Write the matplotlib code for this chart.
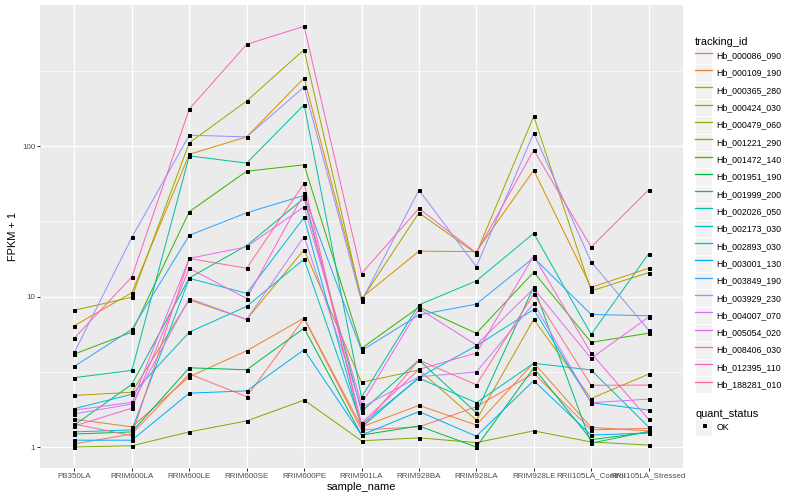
import matplotlib
matplotlib.use('Agg')
import matplotlib.pyplot as plt
from matplotlib.lines import Line2D
from matplotlib.patches import Rectangle
from matplotlib.legend_handler import HandlerLine2D
from matplotlib.ticker import FixedLocator, NullFormatter

plt.rcParams['font.family'] = ['Liberation Sans', 'DejaVu Sans']

samples = ['PB350LA', 'RRIM600LA', 'RRIM600LE', 'RRIM600SE', 'RRIM600PE',
           'RRIM901LA', 'RRIM928BA', 'RRIM928LA', 'RRIM928LE',
           'RRII105LA_Control', 'RRII105LA_Stressed']

tracking_ids = ['Hb_000086_090', 'Hb_000109_190', 'Hb_000365_280', 'Hb_000424_030',
                'Hb_000479_060', 'Hb_001221_290', 'Hb_001472_140', 'Hb_001951_190',
                'Hb_001999_200', 'Hb_002026_050', 'Hb_002173_030', 'Hb_002893_030',
                'Hb_003001_130', 'Hb_003849_190', 'Hb_003929_230', 'Hb_004007_070',
                'Hb_005054_020', 'Hb_008406_030', 'Hb_012395_110', 'Hb_188281_010']

# FPKM + 1, one list per gene (same order as samples)
hb_000086_090 = [1.05, 1.22, 3.06, 2.16, 7.15, 1.30, 1.36, 1.85, 3.09, 1.30, 1.33]
hb_000109_190 = [1.53, 1.36, 2.93, 4.36, 7.20, 1.36, 1.89, 1.40, 3.63, 1.35, 1.28]
hb_000365_280 = [6.4, 10.6, 88, 115, 283, 9.8, 20.0, 19.9, 69, 11.5, 15.4]
hb_000424_030 = [2.2, 2.31, 9.5, 7.05, 20.5, 2.69, 3.25, 1.51, 7.05, 2.1, 3.05]
hb_000479_060 = [8.1, 9.9, 105, 199, 437, 9.5, 36, 19.3, 158, 10.9, 14.4]
hb_001221_290 = [1.0, 1.02, 1.26, 1.49, 2.05, 1.10, 1.15, 1.07, 1.28, 1.08, 1.03]
hb_001472_140 = [4.15, 5.8, 36.6, 68, 75, 4.52, 8.5, 5.7, 14.5, 4.96, 5.7]
hb_001951_190 = [1.22, 1.26, 3.36, 3.26, 6.16, 1.20, 1.38, 1.00, 3.35, 1.12, 1.25]
hb_001999_200 = [1.40, 2.61, 13.3, 21.8, 45, 1.72, 3.78, 1.69, 11.6, 1.06, 1.27]
hb_002026_050 = [2.89, 3.23, 86, 77, 188, 2.14, 8.8, 12.7, 26.3, 5.6, 19.2]
hb_002173_030 = [1.80, 2.24, 5.8, 8.6, 17.7, 1.41, 2.86, 1.97, 3.6, 3.25, 1.36]
hb_002893_030 = [1.26, 1.30, 13.2, 10.5, 33.5, 1.35, 2.90, 4.7, 8.2, 1.97, 1.76]
hb_003001_130 = [1.11, 1.11, 2.28, 2.36, 4.43, 1.20, 1.72, 1.18, 2.76, 1.20, 1.24]
hb_003849_190 = [3.44, 6.05, 25.5, 36, 47, 4.37, 7.55, 8.9, 18.1, 7.6, 7.45]
hb_003929_230 = [4.26, 24.7, 118, 115, 247, 9.3, 51, 15.8, 122, 17.0, 6.0]
hb_004007_070 = [1.66, 1.93, 9.7, 7.05, 25, 1.83, 2.93, 3.15, 9.0, 1.97, 2.08]
hb_005054_020 = [1.76, 1.98, 17.9, 21.4, 39.5, 1.93, 8.3, 4.76, 11.3, 3.88, 7.3]
hb_008406_030 = [1.38, 1.81, 15.4, 9.7, 48.5, 1.44, 3.28, 4.21, 18.6, 4.2, 1.53]
hb_012395_110 = [5.3, 13.5, 176, 474, 624, 14.2, 38.5, 19.5, 94, 21.3, 51]
hb_188281_010 = [1.42, 1.19, 17.9, 15.4, 56.5, 1.33, 3.78, 2.59, 10.4, 2.57, 2.58]

series = [hb_000086_090, hb_000109_190, hb_000365_280, hb_000424_030, hb_000479_060,
          hb_001221_290, hb_001472_140, hb_001951_190, hb_001999_200, hb_002026_050,
          hb_002173_030, hb_002893_030, hb_003001_130, hb_003849_190, hb_003929_230,
          hb_004007_070, hb_005054_020, hb_008406_030, hb_012395_110, hb_188281_010]

# ggplot hue palette, 20 levels
colors = ['#F8766D', '#EA8331', '#D89000', '#C09B00', '#A3A500', '#7CAE00', '#39B600',
          '#00BB4E', '#00BF7D', '#00C1A3', '#00BFC4', '#00BAE0', '#00B0F6', '#35A2FF',
          '#9590FF', '#C77CFF', '#E76BF3', '#FA62DB', '#FF62BC', '#FF6C91']


class KeyHandler(HandlerLine2D):
    """legend key with grey95 box, like ggplot"""
    def create_artists(self, legend, orig_handle, xdescent, ydescent,
                       width, height, fontsize, trans):
        rect = Rectangle((-xdescent, -ydescent), width, height, transform=trans,
                         facecolor='#F2F2F2', edgecolor='white', lw=1)
        arts = super().create_artists(legend, orig_handle, xdescent, ydescent,
                                      width, height, fontsize, trans)
        return [rect] + arts


DPI = 72
fig = plt.figure(figsize=(800 / DPI, 500 / DPI), dpi=DPI)
ax = fig.add_axes([40 / 800, 1 - 468 / 500, 643 / 800, 463 / 500])
ax.set_facecolor('#EBEBEB')

x = list(range(1, len(samples) + 1))
for vals, c in zip(series, colors):
    ax.plot(x, vals, color=c, lw=1.0, zorder=2)
for vals in series:
    ax.plot(x, vals, ls='none', marker='s', ms=3.0, color='black', zorder=3)

ax.set_yscale('log')
ax.set_ylim(10 ** -0.1395, 10 ** 2.937)
ax.set_xlim(0.4, len(samples) + 0.6)
ax.yaxis.set_major_locator(FixedLocator([1, 10, 100]))
ax.set_yticklabels(['1', '10', '100'])
ax.yaxis.set_minor_locator(FixedLocator([10 ** 0.5, 10 ** 1.5, 10 ** 2.5]))
ax.yaxis.set_minor_formatter(NullFormatter())
ax.set_xticks(x)
ax.set_xticklabels(samples)

ax.grid(True, which='major', color='white', lw=1.2, zorder=0)
ax.grid(True, which='minor', axis='y', color='white', lw=0.6, zorder=0)
ax.set_axisbelow(True)
for s in ax.spines.values():
    s.set_visible(False)
ax.tick_params(axis='both', which='major', length=2.75, width=1, color='#333333',
               labelsize=8, labelcolor='#4D4D4D', pad=2)
ax.tick_params(axis='y', which='minor', length=0)
ax.set_xlabel('sample_name', fontsize=11, labelpad=2)
ax.set_ylabel('FPKM + 1', fontsize=11, labelpad=4)

leg_kw = dict(loc='upper left', bbox_transform=fig.transFigure, frameon=False,
              fontsize=8.8, title_fontsize=11, borderpad=0, borderaxespad=0,
              labelspacing=0, handlelength=1.96, handleheight=2.65,
              handletextpad=0.5, alignment='left')

handles = [Line2D([], [], color=c, lw=1.3) for c in colors]
leg1 = ax.legend(handles, tracking_ids, title='tracking_id',
                 bbox_to_anchor=(695 / 800, 1 - 37 / 500),
                 handler_map={Line2D: KeyHandler()}, **leg_kw)
ax.add_artist(leg1)

ok_handle = [Line2D([], [], ls='none', marker='s', ms=3.0, color='black')]
ax.legend(ok_handle, ['OK'], title='quant_status',
          bbox_to_anchor=(695 / 800, 1 - 409 / 500),
          handler_map={Line2D: KeyHandler(marker_pad=0)}, **leg_kw)

fig.savefig('out.png', dpi=DPI)
